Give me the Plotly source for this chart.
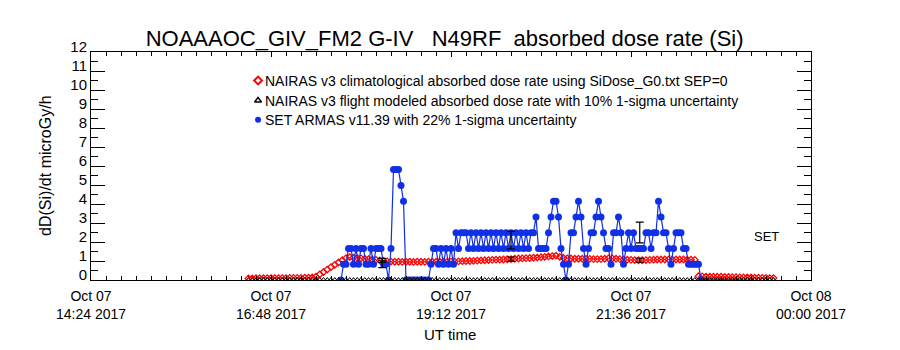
import pandas as pd
import plotly.graph_objects as go

# ---------------- data (times are minutes after 2017-10-07 14:24 UT) ----------------
START = "2017-10-07 14:24"

nairas_minutes = [
    126, 129, 132, 135, 138, 141, 144, 147, 150, 153, 156, 159, 162, 165, 168,
    171, 174, 177, 180, 183, 186, 189, 192, 195, 198, 201, 204, 207, 210, 213,
    216, 219, 222, 225, 228, 231, 234, 237, 240, 243, 246, 249, 252, 255, 258,
    261, 264, 267, 270, 273, 276, 279, 282, 285, 288, 291, 294, 297, 300, 303,
    306, 309, 312, 315, 318, 321, 324, 327, 330, 333, 336, 339, 342, 345, 348,
    351, 354, 357, 360, 363, 366, 369, 372, 375, 378, 381, 384, 387, 390, 393,
    396, 399, 402, 405, 408, 411, 414, 417, 420, 423, 426, 429, 432, 435, 438,
    441, 444, 447, 450, 453, 456, 459, 462, 465, 468, 471, 474, 477, 480, 483,
    486, 489, 492, 495, 498, 501, 504, 507, 510, 513, 516, 519, 522, 525, 528,
    531, 534, 537, 540, 543, 546,
]

nairas_clim = [
    0.08, 0.08, 0.09, 0.09, 0.09, 0.10, 0.10, 0.10, 0.10, 0.10, 0.10, 0.11, 0.11, 0.11, 0.11,
    0.12, 0.12, 0.13, 0.18, 0.30, 0.42, 0.55, 0.68, 0.80, 0.92, 1.04, 1.15, 1.20, 1.18, 1.16,
    1.14, 1.12, 1.10, 1.08, 1.06, 1.03, 1.00, 0.98, 0.97, 0.96, 0.96, 0.95, 0.96, 0.96, 0.95,
    0.96, 0.96, 0.95, 0.96, 0.96, 0.96, 0.96, 0.96, 0.97, 0.97, 0.97, 0.98, 0.99, 1.00, 1.00,
    1.01, 1.02, 1.03, 1.04, 1.05, 1.06, 1.07, 1.07, 1.08, 1.09, 1.10, 1.12, 1.13, 1.14, 1.15,
    1.16, 1.17, 1.18, 1.20, 1.22, 1.24, 1.26, 1.28, 1.22, 1.16, 1.14, 1.13, 1.12, 1.12, 1.12,
    1.11, 1.11, 1.10, 1.10, 1.10, 1.12, 1.14, 1.14, 1.12, 1.10, 1.08, 1.07, 1.06, 1.05, 1.04,
    1.04, 1.05, 1.06, 1.07, 1.08, 1.08, 1.08, 1.08, 1.08, 1.08, 1.08, 1.08, 1.07, 1.07, 1.06,
    0.20, 0.19, 0.18, 0.18, 0.17, 0.17, 0.17, 0.16, 0.16, 0.15, 0.15, 0.14, 0.14, 0.13, 0.13,
    0.12, 0.12, 0.11, 0.11, 0.10, 0.10,
]

nairas_flight = [
    0, 0, 0, 0, 0, 0, 0, 0, 0, 0, 0, 0, 0, 0, 0,
    0, 0, 0, 0, 0, 0, 0, 0, 0, 0, 0, 0, 0, 0, 0,
    0, 0, 0, 0, 0, 0, 0, 0, 0, 0, 0, 0, 0, 0, 0,
    0, 0, 0, 0, 0, 0, 0, 0, 0, 0, 0, 0, 0, 0, 0,
    0, 0, 0, 0, 0, 0, 0, 0, 0, 0, 0, 0, 0, 0, 0,
    0, 0, 0, 0, 0, 0, 0, 0, 0, 0, 0, 0, 0, 0, 0,
    0, 0, 0, 0, 0, 0, 0, 0, 0, 0, 0, 0, 0, 0, 0,
    0, 0, 0, 0, 0, 0, 0, 0, 0, 0, 0, 0, 0, 0, 0,
    0, 0, 0, 0, 0, 0, 0, 0, 0, 0, 0, 0, 0, 0, 0,
    0, 0, 0, 0, 0, 0,
]

set_minutes = [
    200, 202, 204, 206, 208, 210, 212, 214, 216, 218, 220, 222, 224, 226, 228,
    230, 232, 234, 236, 238, 240, 242, 244, 246, 248, 250, 252, 254, 256, 258,
    260, 262, 264, 266, 268, 270, 272, 274, 276, 278, 280, 282, 284, 286, 288,
    290, 292, 294, 296, 298, 300, 302, 304, 306, 308, 310, 312, 314, 316, 318,
    320, 322, 324, 326, 328, 330, 332, 334, 336, 338, 340, 342, 344, 346, 348,
    350, 352, 354, 356, 358, 360, 362, 364, 366, 368, 370, 372, 374, 376, 378,
    380, 382, 384, 386, 388, 390, 392, 394, 396, 398, 400, 402, 404, 406, 408,
    410, 412, 414, 416, 418, 420, 422, 424, 426, 428, 430, 432, 434, 436, 438,
    440, 442, 444, 446, 448, 450, 452, 454, 456, 458, 460, 462, 464, 466, 468,
    470, 472, 474, 476, 478, 480, 482, 484, 486, 488,
]

set_armas = [
    0.00, 0.83, 0.83, 1.66, 1.66, 0.83, 1.66, 0.83, 1.66, 1.66, 0.83, 0.83, 1.66, 0.83, 1.66,
    1.66, 1.66, 0.83, 0.83, 0.00, 1.66, 5.81, 5.81, 5.81, 4.98, 4.15, 0.00, 0.00, 0.00, 0.00,
    0.00, 0.00, 0.00, 0.00, 0.00, 0.00, 0.83, 1.66, 1.66, 0.83, 1.66, 0.83, 1.66, 0.83, 1.66,
    0.83, 2.49, 1.66, 2.49, 2.49, 2.49, 1.66, 2.49, 1.66, 2.49, 1.66, 2.49, 1.66, 2.49, 1.66,
    2.49, 1.66, 2.49, 1.66, 2.49, 1.66, 2.49, 1.66, 2.49, 1.66, 2.49, 1.66, 2.49, 1.66, 2.49,
    1.66, 2.49, 2.49, 3.32, 1.66, 1.66, 1.66, 1.66, 2.49, 3.32, 4.15, 4.15, 3.32, 1.66, 0.83,
    0.00, 0.83, 2.49, 2.49, 3.32, 4.15, 3.32, 1.66, 0.83, 1.66, 2.49, 2.49, 3.32, 4.15, 3.32,
    2.49, 1.66, 1.66, 0.83, 2.49, 2.49, 3.32, 2.49, 0.83, 1.66, 2.49, 1.66, 2.49, 1.66, 1.66,
    1.66, 1.66, 2.49, 2.49, 1.66, 2.49, 2.49, 4.15, 3.32, 2.49, 2.49, 1.66, 0.83, 1.66, 2.49,
    2.49, 2.49, 1.66, 1.66, 0.83, 0.83, 0.83, 0.83, 0.83, 0.00,
]

# sampled uncertainty bars
err_minutes = [233, 336, 439]
nairas_err_center = [1.03, 1.10, 1.04]
set_err_center = [0.83, 2.10, 2.50]
nairas_sigma_pct = 10
set_sigma_pct = 22

tick_minutes = [0, 144, 288, 432, 576]
tick_labels = ["Oct 07<br>14:24 2017", "Oct 07<br>16:48 2017", "Oct 07<br>19:12 2017",
               "Oct 07<br>21:36 2017", "Oct 08<br>00:00 2017"]

legend_labels = [
    "NAIRAS v3 climatological absorbed dose rate using SiDose_G0.txt SEP=0",
    "NAIRAS v3 flight modeled absorbed dose rate with 10% 1-sigma uncertainty",
    "SET ARMAS v11.39 with 22% 1-sigma uncertainty",
]

TITLE = "NOAAAOC_GIV_FM2 G-IV\u00a0\u00a0\u00a0N49RF\u00a0\u00a0absorbed dose rate (Si)"


def to_time(mins):
    return pd.Timestamp(START) + pd.to_timedelta(mins, unit="min")


FONT = "Liberation Sans, Arial, sans-serif"
RED = "#ff0000"
BLUE = "#1030e8"

fig = go.Figure()

fig.add_trace(go.Scatter(
    x=to_time(nairas_minutes), y=nairas_clim, mode="markers",
    marker=dict(symbol="diamond-open", size=5, color=RED, line=dict(width=1.3, color=RED)),
    showlegend=False,
))
fig.add_trace(go.Scatter(
    x=to_time(set_minutes), y=set_armas, mode="lines+markers",
    line=dict(color=BLUE, width=1.2),
    marker=dict(symbol="circle", size=7, color=BLUE),
    showlegend=False,
))
fig.add_trace(go.Scatter(
    x=to_time(nairas_minutes), y=nairas_flight, mode="markers",
    marker=dict(symbol="triangle-up-open", size=5, color="black", line=dict(width=1, color="black")),
    showlegend=False,
))
fig.add_trace(go.Scatter(
    x=to_time(err_minutes), y=nairas_err_center, mode="markers",
    marker=dict(size=1, color="rgba(0,0,0,0)"),
    error_y=dict(type="percent", value=nairas_sigma_pct, color="black", thickness=1.2, width=4),
    showlegend=False,
))
fig.add_trace(go.Scatter(
    x=to_time(err_minutes), y=set_err_center, mode="markers",
    marker=dict(size=1, color="rgba(0,0,0,0)"),
    error_y=dict(type="percent", value=set_sigma_pct, color="black", thickness=1.2, width=4),
    showlegend=False,
))

# legend symbols on a hidden overlay axis (paper-like 0..1 coordinates)
leg_y = [0.875, 0.787, 0.703]
leg_x = 0.232
fig.add_trace(go.Scatter(x=[leg_x], y=[leg_y[0]], xaxis="x2", yaxis="y2", mode="markers",
                         marker=dict(symbol="diamond-open", size=6, color=RED, line=dict(width=2, color=RED)),
                         showlegend=False))
fig.add_trace(go.Scatter(x=[leg_x], y=[leg_y[1]], xaxis="x2", yaxis="y2", mode="markers",
                         marker=dict(symbol="triangle-up-open", size=6, color="black", line=dict(width=1.5, color="black")),
                         showlegend=False))
fig.add_trace(go.Scatter(x=[leg_x], y=[leg_y[2]], xaxis="x2", yaxis="y2", mode="markers",
                         marker=dict(symbol="circle", size=6, color=BLUE),
                         showlegend=False))

annotations = []
for lbl, yy in zip(legend_labels, leg_y):
    annotations.append(dict(xref="paper", yref="paper", x=leg_x + 0.007, y=yy, text=lbl,
                            showarrow=False, xanchor="left", yanchor="middle",
                            font=dict(family=FONT, size=14, color="black")))
annotations.append(dict(xref="paper", yref="paper", x=0.9375, y=0.189, text="SET",
                        showarrow=False, xanchor="center", yanchor="middle",
                        font=dict(family=FONT, size=13, color="black")))
annotations.append(dict(xref="paper", yref="paper", x=-0.064, y=0.5, text="dD(Si)/dt microGy/h",
                        textangle=-90, showarrow=False, xanchor="center", yanchor="middle",
                        font=dict(family=FONT, size=16, color="black")))
annotations.append(dict(xref="paper", yref="paper", x=0.499, y=-0.237, text="UT time",
                        showarrow=False, xanchor="center", yanchor="middle",
                        font=dict(family=FONT, size=15, color="black")))

fig.update_layout(
    width=900, height=350,
    margin=dict(l=91, r=89, t=52, b=70),
    paper_bgcolor="white", plot_bgcolor="white",
    font=dict(family=FONT, size=14, color="black"),
    title=dict(text=TITLE, x=0.494, xref="container", y=0.891, yref="container",
               xanchor="center", yanchor="middle",
               font=dict(family=FONT, size=22, color="black")),
    showlegend=False,
    annotations=annotations,
    xaxis=dict(
        type="date",
        range=[to_time(0), to_time(576)],
        tickmode="array",
        tickvals=list(to_time(tick_minutes)),
        ticktext=tick_labels,
        ticks="inside", ticklen=5, tickcolor="black", tickwidth=1,
        ticklabelstandoff=3,
        minor=dict(tick0=to_time(0), dtick=12 * 60 * 1000, ticks="inside", ticklen=4,
                   tickcolor="black", tickwidth=1, showgrid=False),
        showline=True, linecolor="black", linewidth=1, mirror="ticks",
        showgrid=False, zeroline=False,
        tickfont=dict(family=FONT, size=14, color="black"),
    ),
    yaxis=dict(
        range=[0, 12], dtick=1, tick0=0,
        ticks="inside", ticklen=14, tickcolor="black", tickwidth=1,
        ticklabelshift=-5,
        minor=dict(dtick=0.5, ticks="inside", ticklen=7, tickcolor="black", tickwidth=1, showgrid=False),
        showline=True, linecolor="black", linewidth=1, mirror="ticks",
        showgrid=False, zeroline=False,
        tickfont=dict(family=FONT, size=15, color="black"),
    ),
    xaxis2=dict(overlaying="x", range=[0, 1], visible=False),
    yaxis2=dict(overlaying="y", range=[0, 1], visible=False),
)

fig.write_html("out.html")
